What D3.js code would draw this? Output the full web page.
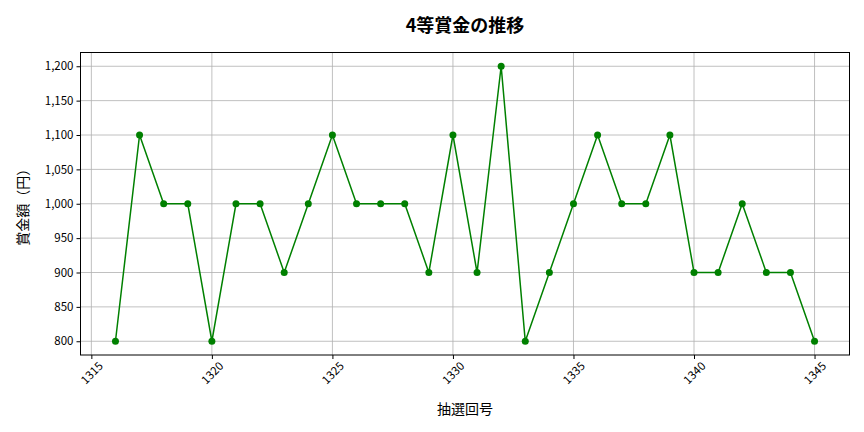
<!DOCTYPE html>
<html>
<head>
<meta charset="utf-8">
<script src="https://cdn.jsdelivr.net/npm/d3@7"></script>
<style>
  body { margin: 0; background: #fff; }
  svg, svg text { font-family: "Noto Sans CJK JP", "Noto Sans", sans-serif; }
</style>
</head>
<body>
<svg id="chart" width="864" height="432"></svg>
<script>
// draw numbers (抽選回号) and 4th prize amounts (円)
var draws = [1316, 1317, 1318, 1319, 1320, 1321, 1322, 1323, 1324, 1325,
             1326, 1327, 1328, 1329, 1330, 1331, 1332, 1333, 1334, 1335,
             1336, 1337, 1338, 1339, 1340, 1341, 1342, 1343, 1344, 1345];
var prizes = [800, 1100, 1000, 1000, 800, 1000, 1000, 900, 1000, 1100,
              1000, 1000, 1000, 900, 1100, 900, 1200, 800, 900, 1000,
              1100, 1000, 1000, 1100, 900, 900, 1000, 900, 900, 800];
var xTicks = [1315, 1320, 1325, 1330, 1335, 1340, 1345];
var yTicks = [800, 850, 900, 950, 1000, 1050, 1100, 1150, 1200];

var svg = d3.select("#chart");
var mLeft = 80.5, mRight = 849.5, mTop = 52.5, mBottom = 355;

var x = d3.scaleLinear().domain([1314.55, 1346.45]).range([mLeft, mRight]);
var y = d3.scaleLinear().domain([780, 1220]).range([mBottom, mTop]);

// grid
var grid = svg.append("g").attr("stroke", "#b0b0b0").attr("stroke-width", 0.8);
xTicks.forEach(function(t) {
  grid.append("line").attr("x1", x(t)).attr("x2", x(t)).attr("y1", mTop).attr("y2", mBottom);
});
yTicks.forEach(function(t) {
  grid.append("line").attr("x1", mLeft).attr("x2", mRight).attr("y1", y(t)).attr("y2", y(t));
});

// axes
var fmt = d3.format(",");
var xAxis = svg.append("g").attr("transform", "translate(0," + mBottom + ")")
  .call(d3.axisBottom(x).tickValues(xTicks).tickFormat(d3.format("d")).tickSizeOuter(0).tickSize(4));
xAxis.attr("font-family", null);
xAxis.selectAll("text")
  .attr("font-size", 11.5).attr("fill", "#000")
  .attr("text-anchor", "middle")
  .attr("y", 0).attr("dy", "0.35em")
  .attr("transform", "translate(0,18) rotate(-45)");
var yAxis = svg.append("g").attr("transform", "translate(" + mLeft + ",0)")
  .call(d3.axisLeft(y).tickValues(yTicks).tickFormat(fmt).tickSizeOuter(0).tickSize(4));
yAxis.attr("font-family", null);
yAxis.selectAll("text").attr("font-size", 11.5).attr("fill", "#000");
svg.selectAll(".domain").remove();

// frame
svg.append("rect").attr("x", mLeft).attr("y", mTop)
  .attr("width", mRight - mLeft).attr("height", mBottom - mTop)
  .attr("fill", "none").attr("stroke", "#000").attr("stroke-width", 1);

// line + markers
var line = d3.line().x(function(d, i) { return x(draws[i]); }).y(function(d) { return y(d); });
svg.append("path").datum(prizes).attr("d", line)
  .attr("fill", "none").attr("stroke", "green").attr("stroke-width", 1.5);
svg.selectAll("circle.pt").data(prizes).enter().append("circle")
  .attr("class", "pt")
  .attr("cx", function(d, i) { return x(draws[i]); })
  .attr("cy", function(d) { return y(d); })
  .attr("r", 3.5).attr("fill", "green");

// titles
svg.append("text").attr("x", (mLeft + mRight) / 2).attr("y", 32)
  .attr("text-anchor", "middle").attr("font-size", 18).attr("font-weight", "bold")
  .text("4等賞金の推移");
svg.append("text").attr("x", (mLeft + mRight) / 2).attr("y", 414)
  .attr("text-anchor", "middle").attr("font-size", 14)
  .text("抽選回号");
svg.append("text").attr("transform", "translate(28," + ((mTop + mBottom) / 2) + ") rotate(-90)")
  .attr("text-anchor", "middle").attr("font-size", 14)
  .text("賞金額（円）");
</script>
</body>
</html>
